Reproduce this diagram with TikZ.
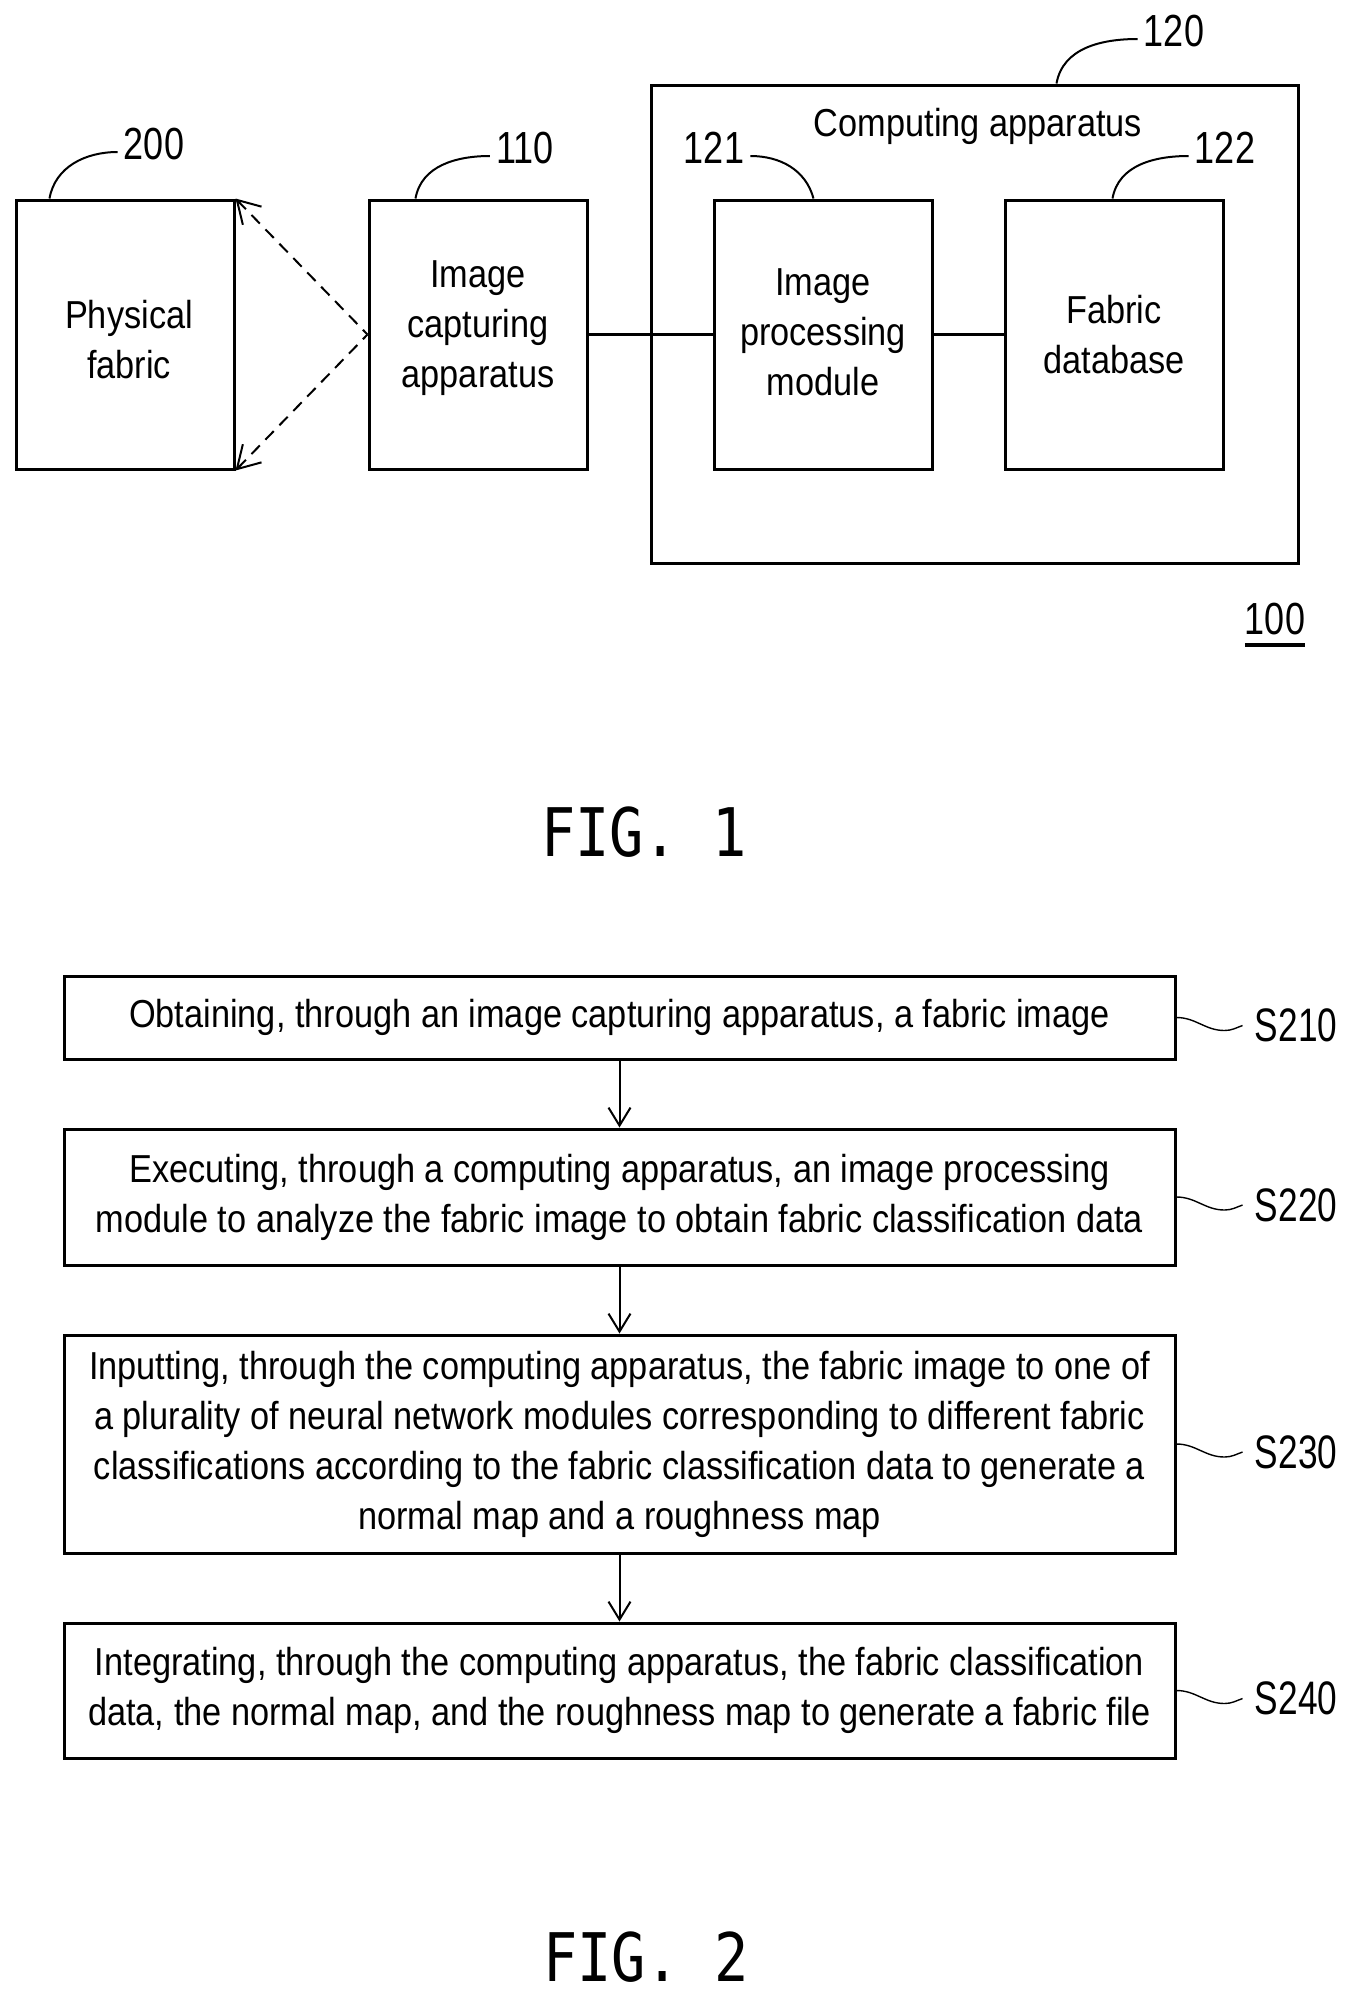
\documentclass[tikz,border=0pt]{standalone}
\usepackage{fontspec}
\setmainfont{Liberation Sans}[FakeStretch=0.88]
\newfontfamily\refnumfont{Liberation Sans}[FakeStretch=0.8]
\newfontfamily\stepfont{Liberation Sans}[FakeStretch=0.75]
\newfontfamily\figfont{DejaVu Sans Mono}[FakeStretch=0.85]
\usetikzlibrary{positioning, arrows.meta}

\newcommand{\steplink}[2]{\draw[squig] (#1.east) to[out=0,in=180] ++(24pt,-6.5pt) to[out=0,in=200] ([xshift=-6pt]#2.west);}
\newcommand{\boxtext}[2]{\raisebox{#1}[\height][\depth]{\parbox{100pt}{\centering #2}}}

\begin{document}
\begin{tikzpicture}[x=0.5pt, y=0.5pt,
     node distance = 33.5pt and 35pt,
               font = \fontsize{19.5}{25}\selectfont,
                  > = {Straight Barb[length=9pt, width=11pt]},
        box/.style = {rectangle, draw, line width=1.5pt, minimum width=109pt, minimum height=134.5pt, align=center, inner sep=0pt},
      sbox/.style = {rectangle, draw, line width=1.5pt, minimum width=555.5pt, align=center, inner xsep=4pt, inner ysep=5pt},
     refnum/.style = {font=\refnumfont\fontsize{22.5}{22.5}\selectfont, inner sep=0pt},
    steplab/.style = {font=\stepfont\fontsize{23.5}{23.5}\selectfont, inner sep=0pt},
     leader/.style = {line width=1pt},
      squig/.style = {line width=0.7pt},
     figlab/.style = {font=\figfont\fontsize{33.5}{33.5}\selectfont, inner sep=0pt}
                        ]
\useasboundingbox (0,0) rectangle (1350,-1999);
% FIG. 1
\node (fabric)  [box] at (125,-334.5) {\boxtext{-2.5pt}{\hspace*{4pt}Physical\\\hspace*{4pt}fabric}};
\node (capture) [box, right=66pt of fabric] {\boxtext{3pt}{Image\\capturing\\apparatus}};
\node (proc)    [box, right=62pt of capture] {\boxtext{1.2pt}{Image\\processing\\module}};
\node (db)      [box, right=35pt of proc] {\boxtext{0pt}{Fabric\\database}};
\node (comp) [rectangle, draw, line width=1.5pt, minimum width=323.5pt, minimum height=239pt] at (974.5,-324) {};
\node (comptext) at (978,-126) {Computing apparatus};
\draw[line width=1.5pt] (capture) -- (proc);
\draw[line width=1.5pt] (proc) -- (db);
\draw[{Straight Barb[length=11pt, width=13pt]}-, dash pattern=on 6pt off 4pt, line width=1pt] (fabric.north east) -- (capture.west);
\draw[{Straight Barb[length=11pt, width=13pt]}-, dash pattern=on 6pt off 4pt, line width=1pt] (fabric.south east) -- (capture.west);
\node (n200) [refnum] at (154,-144) {200};
\node (n110) [refnum] at (525,-148) {110};
\node (n120) [refnum] at (1174,-31) {120};
\node (n121) [refnum] at (714,-148) {121};
\node (n122) [refnum] at (1225,-148) {122};
\node (n100) [refnum] at (1275,-625) {\vtop{\hbox{100}\kern4pt\hrule height 2pt}};
\draw[leader] ([xshift=17.5pt]fabric.north west) to[out=80,in=180] ([xshift=-3pt,yshift=-4pt]n200.west);
\draw[leader] ([xshift=24pt]capture.north west) to[out=80,in=180] ([xshift=-3pt,yshift=-4pt]n110.west);
\draw[leader] ([xshift=203.5pt]comp.north west) to[out=80,in=180] ([xshift=-3pt,yshift=-4pt]n120.west);
\draw[leader] ([xshift=3pt,yshift=-4pt]n121.east) to[out=0,in=105] ([xshift=50.5pt]proc.north west);
\draw[leader] ([xshift=54.5pt]db.north west) to[out=80,in=180] ([xshift=-3pt,yshift=-4pt]n122.west);
\node (fig1) [figlab] at (644,-832) {FIG. 1};
% FIG. 2
\node (s210) [sbox, minimum height=41.5pt] at (619.5,-1017.5) {Obtaining, through an image capturing apparatus, a fabric image};
\node (s220) [sbox, minimum height=68pt, below=of s210] {Executing, through a computing apparatus, an image processing\\module to analyze the fabric image to obtain fabric classification data};
\node (s230) [sbox, minimum height=109pt, below=of s220] {Inputting, through the computing apparatus, the fabric image to one of\\a plurality of neural network modules corresponding to different fabric\\classifications according to the fabric classification data to generate a\\normal map and a roughness map};
\node (s240) [sbox, minimum height=67.5pt, below=of s230] {Integrating, through the computing apparatus, the fabric classification\\data, the normal map, and the roughness map to generate a fabric file};
\draw[->, line width=1pt] (s210) -- (s220);
\draw[->, line width=1pt] (s220) -- (s230);
\draw[->, line width=1pt] (s230) -- (s240);
\node (l210) [steplab, right=39pt of s210.east, yshift=-4pt] {S210};
\node (l220) [steplab, right=39pt of s220.east, yshift=-4pt] {S220};
\node (l230) [steplab, right=39pt of s230.east, yshift=-4pt] {S230};
\node (l240) [steplab, right=39pt of s240.east, yshift=-4pt] {S240};
\steplink{s210}{l210}
\steplink{s220}{l220}
\steplink{s230}{l230}
\steplink{s240}{l240}
\node (fig2) [figlab] at (646,-1957) {FIG. 2};
\end{tikzpicture}
\end{document}
